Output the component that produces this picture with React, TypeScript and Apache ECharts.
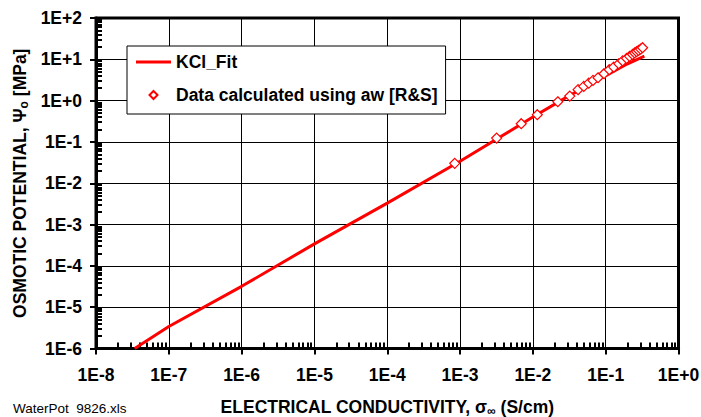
import { useEffect, useRef } from 'react';
import * as echarts from 'echarts';

// Axis tick labels (one per decade)
const xTickLabels = ['1E-8', '1E-7', '1E-6', '1E-5', '1E-4', '1E-3', '1E-2', '1E-1', '1E+0'];
const yTickLabels = ['1E-6', '1E-5', '1E-4', '1E-3', '1E-2', '1E-1', '1E+0', '1E+1', '1E+2'];
const xDecades = [1e-8, 1e-7, 1e-6, 1e-5, 1e-4, 1e-3, 1e-2, 1e-1, 1];
const yDecades = [1e-6, 1e-5, 1e-4, 1e-3, 1e-2, 1e-1, 1, 10, 100];

// KCl fit curve (S/cm -> MPa)
const fitX = [3.4e-8, 1e-7, 1e-6, 1e-5, 1e-4, 1e-3, 1e-2, 0.03, 0.1, 0.2, 0.34];
const fitY = [1.0e-6, 3.4e-6, 3.2e-5, 3.4e-4, 3.3e-3, 3.4e-2, 0.4, 1.25, 4.0, 7.8, 12];

// Data calculated using aw [R&S]
const dataX = [8.45e-4, 3.18e-3, 6.92e-3, 1.15e-2, 0.022, 0.0321, 0.0418, 0.05, 0.0585, 0.067, 0.0785, 0.0949,
  0.112, 0.129, 0.151, 0.171, 0.194, 0.213, 0.234, 0.25, 0.266, 0.283, 0.302, 0.321];
const dataY = [0.0304, 0.124, 0.276, 0.456, 0.94, 1.29, 1.84, 2.21, 2.65, 3.08, 3.58, 4.48,
  5.6, 6.47, 7.82, 9.14, 10.5, 11.8, 13.1, 14.3, 15.3, 16.4, 17.7, 19.1];

const FONT = '"Liberation Sans", Arial, Helvetica, sans-serif';
const RED = '#ff0000';
const FS = 17.5;

function labelFor(labels: string[], decades: number[], v: number) {
  const e = Math.round(Math.log10(v));
  const i = decades.findIndex((d) => Math.round(Math.log10(d)) === e);
  return i >= 0 ? labels[i] : '';
}

export default function App() {
  const ref = useRef<HTMLDivElement>(null);
  useEffect(() => {
    const chart = echarts.init(ref.current!, null, { renderer: 'svg' });
    const xMin = xDecades[0];
    const xMax = xDecades[xDecades.length - 1];
    const yMin = yDecades[0];
    const yMax = yDecades[yDecades.length - 1];

    const tickText = { fontFamily: FONT, fontWeight: 'bold' as const, fontSize: FS, color: '#000' };
    const nameStyle = {
      fontFamily: FONT, fontWeight: 'bold' as const, fontSize: FS, color: '#000', lineHeight: 20,
      rich: { s: { fontFamily: FONT, fontWeight: 'bold' as const, fontSize: 12, color: '#000', verticalAlign: 'bottom' as const } },
    };
    // overlay axis: only inward minor ticks (2..9 within each decade)
    const minorOverlay = {
      type: 'log', logBase: 10, splitNumber: 8, gridIndex: 0,
      axisLine: { show: false },
      axisLabel: { show: false },
      splitLine: { show: false },
      axisTick: { show: false, inside: true },
      minorTick: { show: true, splitNumber: 9, length: 6, lineStyle: { color: '#000', width: 2 } },
      minorSplitLine: { show: false },
    };

    chart.setOption({
      animation: false,
      backgroundColor: '#fff',
      grid: {
        left: 96, right: 22.5, top: 18, bottom: 68.5,
        outerBoundsMode: 'none', containLabel: false,
        show: true, borderColor: '#000', borderWidth: 3, backgroundColor: 'transparent',
      },
      legend: {
        left: 127, top: 46, orient: 'vertical',
        itemWidth: 35, itemHeight: 8, itemGap: 15,
        padding: [7, 8, 10, 9],
        symbolKeepAspect: true,
        backgroundColor: '#fff', borderColor: '#000', borderWidth: 1,
        selectedMode: false,
        textStyle: { fontFamily: FONT, fontWeight: 'bold', fontSize: FS, color: '#000' },
        data: [
          { name: 'KCl_Fit', icon: 'path://M0,0L35,0L35,3L0,3Z', itemStyle: { borderWidth: 0 } },
          { name: 'Data calculated using aw [R&S]', icon: 'path://M5,0L10,5L5,10L0,5Z' },
        ],
      },
      xAxis: [
        {
          type: 'log', logBase: 10, min: xMin, max: xMax, splitNumber: 8, position: 'bottom',
          name: 'ELECTRICAL CONDUCTIVITY, σ{s|∞} (S/cm)',
          nameLocation: 'middle', nameGap: 48,
          nameTextStyle: nameStyle,
          axisLine: { show: true, lineStyle: { color: '#000', width: 3 } },
          axisTick: { show: true, inside: false, length: 6, lineStyle: { color: '#000', width: 2 } },
          axisLabel: { ...tickText, margin: 17, formatter: (v: number) => labelFor(xTickLabels, xDecades, v) },
          splitLine: { show: true, lineStyle: { color: '#000', width: 1 } },
        },
        { ...minorOverlay, min: xMin, max: xMax, position: 'bottom' },
      ],
      yAxis: [
        {
          type: 'log', logBase: 10, min: yMin, max: yMax, splitNumber: 8, position: 'left',
          name: 'OSMOTIC POTENTIAL, Ψ{s|o} [MPa]',
          nameLocation: 'middle', nameGap: 62, nameRotate: 90,
          nameTextStyle: nameStyle,
          axisLine: { show: true, lineStyle: { color: '#000', width: 3 } },
          axisTick: { show: true, inside: false, length: 6, lineStyle: { color: '#000', width: 2 } },
          axisLabel: { ...tickText, margin: 14, formatter: (v: number) => labelFor(yTickLabels, yDecades, v) },
          splitLine: { show: true, lineStyle: { color: '#000', width: 1 } },
        },
        { ...minorOverlay, min: yMin, max: yMax, position: 'left' },
      ],
      series: [
        {
          name: 'KCl_Fit', type: 'line', symbol: 'none', z: 3,
          xAxisIndex: 0, yAxisIndex: 0,
          lineStyle: { color: RED, width: 3 }, itemStyle: { color: RED },
          data: fitX.map((x, i) => [x, fitY[i]]),
        },
        {
          name: 'Data calculated using aw [R&S]', type: 'scatter', symbol: 'diamond', symbolSize: 10, z: 4,
          xAxisIndex: 0, yAxisIndex: 0,
          itemStyle: { color: '#fff', borderColor: RED, borderWidth: 1.2, opacity: 1 },
          data: dataX.map((x, i) => [x, dataY[i]]),
        },
      ],
      graphic: [
        {
          type: 'text', left: 13, top: 401,
          style: { text: 'WaterPot\u00a0 9826.xls', fontFamily: FONT, fontSize: 13.5, fill: '#000' },
        },
      ],
    });

    return () => chart.dispose();
  }, []);
  return <div ref={ref} style={{ position: 'fixed', left: 0, top: 0, width: 701, height: 417 }} />;
}
